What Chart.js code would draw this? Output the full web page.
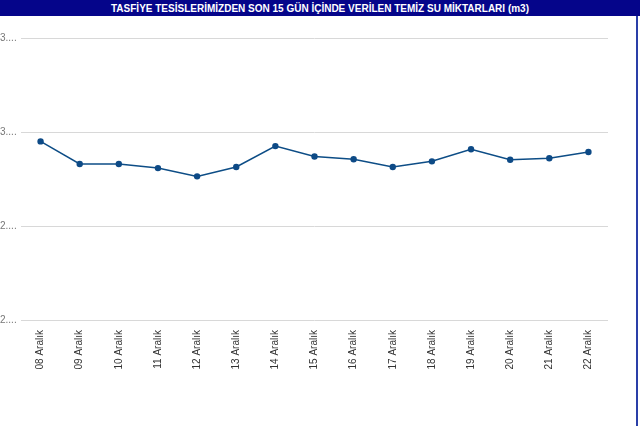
<!DOCTYPE html>
<html>
<head>
<meta charset="utf-8">
<script src="https://cdn.jsdelivr.net/npm/chart.js@4.4.0/dist/chart.umd.min.js"></script>
<style>
  html, body { margin: 0; padding: 0; background: #fff; }
  #wrap { position: relative; width: 640px; height: 426px; overflow: hidden; }
  .title-bar {
    position: absolute; left: 0; top: 0; width: 640px; height: 16px;
    background: #05058a; color: #fff;
    font: bold 10px "Liberation Sans", Arial, sans-serif;
    text-align: center; line-height: 17px;
  }
  .edge {
    position: absolute; left: 636px; top: 16px; width: 2px; height: 410px;
    background: #2a3fa8;
  }
  #chart { position: absolute; left: 0; top: 0; }
</style>
</head>
<body>
<div id="wrap">
  <canvas id="chart" width="640" height="426"></canvas>
  <div class="title-bar">TASFİYE TESİSLERİMİZDEN SON 15 GÜN İÇİNDE VERİLEN TEMİZ SU MİKTARLARI (m3)</div>
  <div class="edge"></div>
</div>
<script>
// Days shown on the x axis
const days = [
  "08 Aralık", "09 Aralık", "10 Aralık", "11 Aralık", "12 Aralık",
  "13 Aralık", "14 Aralık", "15 Aralık", "16 Aralık", "17 Aralık",
  "18 Aralık", "19 Aralık", "20 Aralık", "21 Aralık", "22 Aralık"
];

// Daily clean water amounts (m3)
const waterAmounts = [
  29500, 28300, 28300, 28080, 27640,
  28140, 29250, 28700, 28550, 28140,
  28440, 29080, 28520, 28600, 28940
];

// y axis range and tick step
const yMin = 20000;
const yMax = 35000;
const yStep = 5000;

function loadChart() {
  const ctx = document.getElementById("chart").getContext("2d");
  new Chart(ctx, {
    type: "line",
    data: {
      labels: days,
      datasets: [{
        label: "m3",
        data: waterAmounts,
        borderColor: "#0d4d86",
        backgroundColor: "#0d4d86",
        borderWidth: 1.5,
        pointRadius: 3.2,
        pointBackgroundColor: "#0d4a86",
        pointBorderWidth: 0,
        tension: 0
      }]
    },
    options: {
      responsive: false,
      animation: false,
      layout: { padding: { top: 38, right: 32, bottom: 0, left: 0 } },
      plugins: {
        legend: { display: false },
        tooltip: { enabled: false }
      },
      scales: {
        x: {
          offset: true,
          grid: { display: false },
          border: { display: false },
          ticks: {
            color: "#333",
            font: { family: "Liberation Sans, Arial", size: 10 },
            maxRotation: 90,
            minRotation: 90,
            padding: 2
          },
          afterFit: axis => { axis.height = 106; }
        },
        y: {
          min: yMin,
          max: yMax,
          grid: { color: "#d8d8d8", drawTicks: false },
          border: { display: false },
          ticks: {
            stepSize: yStep,
            color: "#777",
            font: { family: "Liberation Sans, Arial", size: 10 },
            crossAlign: "far",
            padding: 3,
            callback: v => String(v).charAt(0) + "...."
          },
          afterFit: axis => { axis.width = 21; }
        }
      }
    }
  });
}

window.onload = () => {
  loadChart();
};
</script>
</body>
</html>
